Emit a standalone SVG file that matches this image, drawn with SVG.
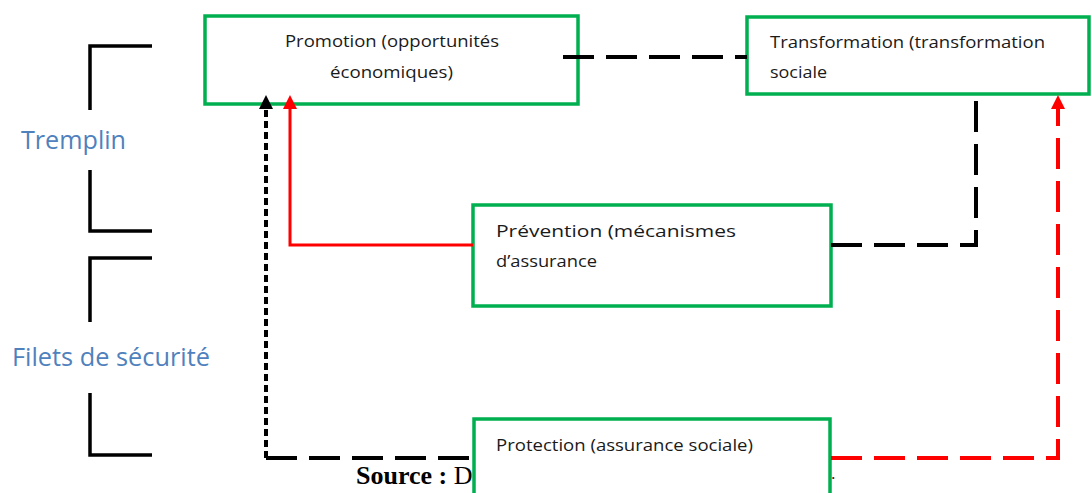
<svg xmlns="http://www.w3.org/2000/svg" width="1092" height="493" viewBox="0 0 1092 493">
<style>
.box{fill:#fff;stroke:#00B050;stroke-width:3.5}
.t{font-family:"Open Sans","Liberation Sans",sans-serif;font-size:17px;fill:#1a1a1a}
.lbl{font-family:"Open Sans","Liberation Sans",sans-serif;font-size:25px;fill:#4F81BD}
.br{fill:none;stroke:#000;stroke-width:3.5}
.bd{fill:none;stroke:#000;stroke-width:4;stroke-dasharray:31 12}
.rd{fill:none;stroke:#FF0000;stroke-width:4;stroke-dasharray:31 12}
.fd{fill:none;stroke:#000;stroke-width:4;stroke-dasharray:7 4}
.rs{fill:none;stroke:#FF0000;stroke-width:3}
.src{font-family:"Liberation Serif",serif;font-size:26px;fill:#000}
</style>
<g id="brackets">
<path class="br" d="M152 46 H90 V110"/>
<path class="br" d="M90 170 V231 H152"/>
<path class="br" d="M152 258 H90 V322"/>
<path class="br" d="M90 393 V455 H152"/>
<text class="lbl" x="21" y="149" textLength="105" lengthAdjust="spacingAndGlyphs">Tremplin</text>
<text class="lbl" x="12" y="366" textLength="198" lengthAdjust="spacingAndGlyphs">Filets de sécurité</text>
</g>
<text class="src" x="356" y="484"><tspan font-weight="bold">Source :</tspan> D</text>
<text class="t" x="831" y="479" font-size="10">.</text>
<g id="promotion">
<rect class="box" x="205" y="16" width="373" height="88"/>
<text class="t" x="285" y="47" textLength="214" lengthAdjust="spacingAndGlyphs">Promotion (opportunités</text>
<text class="t" x="330" y="78" textLength="123" lengthAdjust="spacingAndGlyphs">économiques)</text>
</g>
<g id="transformation">
<rect class="box" x="747" y="17" width="342" height="77"/>
<text class="t" x="770" y="48" textLength="275" lengthAdjust="spacingAndGlyphs">Transformation (transformation</text>
<text class="t" x="770" y="78" textLength="57" lengthAdjust="spacingAndGlyphs">sociale</text>
</g>
<g id="prevention">
<rect class="box" x="473" y="205" width="358" height="101"/>
<text class="t" x="496" y="237" textLength="240" lengthAdjust="spacingAndGlyphs">Prévention (mécanismes</text>
<text class="t" x="496" y="267" textLength="101" lengthAdjust="spacingAndGlyphs">d’assurance</text>
</g>
<g id="protection">
<rect class="box" x="474" y="419" width="356" height="100"/>
<text class="t" x="496" y="451" textLength="257" lengthAdjust="spacingAndGlyphs">Protection (assurance sociale)</text>
</g>
<g id="connectors">
<path class="bd" d="M563 57 H747"/>
<path class="bd" d="M831 245 H976 V94"/>
<path class="rd" d="M831 458 H1058 V108"/>
<path d="M1058 95 L1065 109 L1051 109 Z" fill="#FF0000"/>
<path class="rs" d="M473 245 H290 V108"/>
<path d="M290 95 L297 109 L283 109 Z" fill="#FF0000"/>
<path class="fd" d="M266 458 V108"/>
<path d="M266 95 L273 109 L259 109 Z" fill="#000"/>
<path class="bd" d="M266 458 H474"/>
</g>
</svg>
